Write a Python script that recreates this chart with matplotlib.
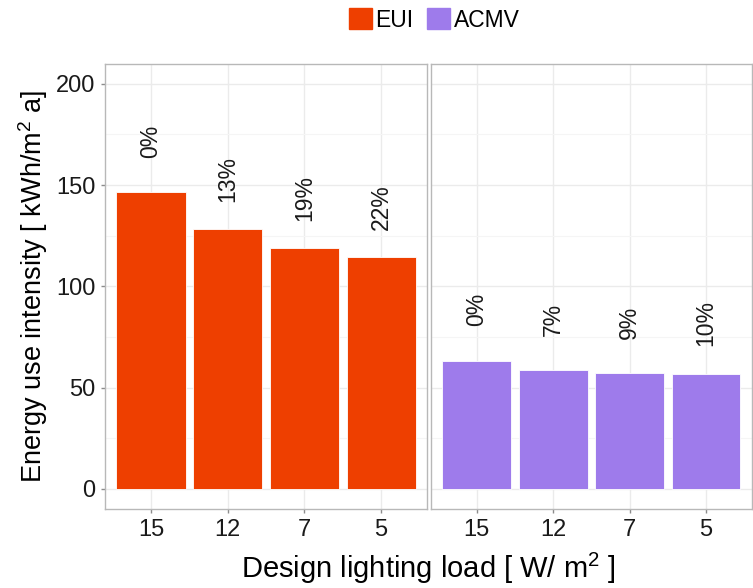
import matplotlib

matplotlib.use("Agg")
import matplotlib.pyplot as plt
from matplotlib.patches import Patch

plt.rcParams["font.family"] = ["Liberation Sans", "DejaVu Sans"]
plt.rcParams["mathtext.default"] = "regular"

# Design lighting load categories and the two series (kWh/m2 a)
loads = ["15", "12", "7", "5"]
eui = [146.5, 128.2, 118.7, 114.3]
acmv = [63.4, 58.9, 57.3, 56.8]
eui_pct = ["0%", "13%", "19%", "22%"]
acmv_pct = ["0%", "7%", "9%", "10%"]

EUI_COLOR = "#EE3F00"
ACMV_COLOR = "#9E7BEB"
LABEL_OFFSET = 25  # label centre sits this far above bar top

fig = plt.figure(figsize=(7.53, 5.88), dpi=100)
ax_l = fig.add_axes([0.1394, 0.134, 0.4278, 0.758])
ax_r = fig.add_axes([0.5724, 0.134, 0.4262, 0.758], sharey=ax_l)

panels = [
    (ax_l, eui, eui_pct, EUI_COLOR),
    (ax_r, acmv, acmv_pct, ACMV_COLOR),
]
for ax, vals, pcts, color in panels:
    xs = list(range(len(loads)))
    ax.bar(xs, vals, width=0.9, color=color, edgecolor="white", linewidth=0.6, zorder=3)
    for x, v, p in zip(xs, vals, pcts):
        ax.text(x, v + LABEL_OFFSET, p, rotation=90, ha="center", va="center",
                fontsize=16.5, color="#1a1a1a", zorder=4)
    ax.set_xlim(-0.6, len(loads) - 0.4)
    ax.set_xticks(xs)
    ax.set_xticklabels(loads)
    ax.set_ylim(-10, 210)
    ax.set_yticks([0, 50, 100, 150, 200])
    ax.set_yticks([25, 75, 125, 175], minor=True)
    ax.grid(True, which="major", color="#EBEBEB", linewidth=1.0, zorder=0)
    ax.grid(True, which="minor", axis="y", color="#F5F5F5", linewidth=0.8, zorder=0)
    ax.set_axisbelow(True)
    for s in ax.spines.values():
        s.set_color("#B8B8B8")
        s.set_linewidth(1.0)
    ax.tick_params(axis="both", which="major", length=3, width=1, color="#8c8c8c",
                   labelsize=17, labelcolor="#1a1a1a", pad=4)
    ax.tick_params(axis="y", which="minor", length=0)

ax_r.tick_params(axis="y", which="both", left=False, labelleft=False)

ax_l.set_ylabel("Energy use intensity [ kWh/m$^2$ a]", fontsize=19.5, labelpad=4)
fig.text(0.5724 - 0.004, 0.033, "Design lighting load [ W/ m$^2$ ]", fontsize=21,
         ha="center", va="center")

handles = [Patch(color=EUI_COLOR, label="EUI"), Patch(color=ACMV_COLOR, label="ACMV")]
fig.legend(handles=handles, loc="center", bbox_to_anchor=(0.577, 0.966), ncol=2,
           frameon=False, fontsize=16.5, handlelength=1.0, handleheight=1.0,
           handletextpad=0.15, columnspacing=0.6)

fig.savefig("out.png", dpi=100)
